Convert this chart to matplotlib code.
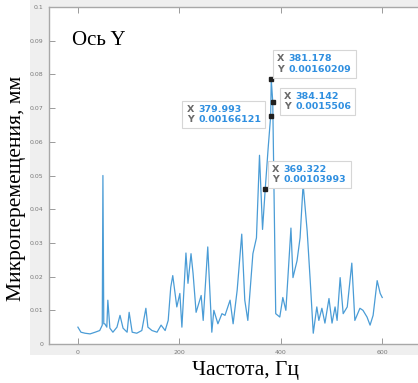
import matplotlib
matplotlib.use("Agg")
import matplotlib.pyplot as plt
from matplotlib.patches import Rectangle
from matplotlib.offsetbox import TextArea, HPacker, AnnotationBbox

# spectrum
freq = [0, 2, 6, 14, 24, 34, 43, 48, 49.3, 51, 53, 57, 59, 63, 69, 77, 83, 89, 97,
        101, 107, 116, 126, 134, 138, 146, 156, 164, 172, 178, 183, 187, 195, 201,
        205, 213, 217, 223, 227, 233, 243, 247, 256, 264, 268, 276, 284, 290, 300,
        306, 314, 323, 329, 335, 345, 352, 358, 364, 369.322, 375, 379.993, 381.178,
        384.142, 390, 398, 404, 410, 414, 420, 424, 432, 438, 444, 452, 458, 464,
        471, 475, 481, 487, 495, 501, 507, 511, 517, 523, 531, 540, 546, 556, 562,
        570, 576, 582, 590, 596, 600]
disp = [0.005, 0.0045, 0.0035, 0.0032, 0.003, 0.0035, 0.004, 0.0056, 0.050, 0.006,
        0.006, 0.005, 0.013, 0.0047, 0.0035, 0.005, 0.0085, 0.0047, 0.0035, 0.0094,
        0.0035, 0.0032, 0.004, 0.0106, 0.005, 0.004, 0.0035, 0.0056, 0.004, 0.007,
        0.0168, 0.0203, 0.011, 0.015, 0.005, 0.027, 0.018, 0.0268, 0.021, 0.0094,
        0.0144, 0.007, 0.0288, 0.0035, 0.01, 0.006, 0.009, 0.0085, 0.013, 0.006,
        0.016, 0.0326, 0.013, 0.007, 0.0268, 0.0315, 0.056, 0.034, 0.046, 0.058,
        0.0676, 0.0785, 0.0718, 0.009, 0.008, 0.0138, 0.01, 0.0197, 0.0344, 0.0197,
        0.0247, 0.0315, 0.0474, 0.0335, 0.0188, 0.0032, 0.011, 0.007, 0.0106, 0.0062,
        0.0135, 0.0062, 0.011, 0.007, 0.0197, 0.009, 0.011, 0.024, 0.007, 0.0106,
        0.010, 0.008, 0.0056, 0.0085, 0.0188, 0.015, 0.0138]

# data tips: x value, label text for y, offset of the box in pixels
tip_x = [381.178, 384.142, 379.993, 369.322]
tip_ylabel = ["0.00160209", "0.0015506", "0.00166121", "0.00103993"]
tip_off = [(6, 25), (11, 10), (-84, 11), (7, 24)]

fig = plt.figure(figsize=(4.18, 3.83), dpi=100)
fig.patch.set_facecolor("white")
fig.patches.append(Rectangle((30 / 418, 28 / 383), 1, 1, transform=fig.transFigure,
                             facecolor="#efefef", edgecolor="none", zorder=-5))

ax = fig.add_axes([49 / 418, 39 / 383, 369 / 418, 337 / 383])
ax.set_zorder(2)
ax.set_facecolor("white")
ax.plot(freq, disp, color="#4a9cd6", lw=0.9)

tip_font = dict(fontsize=6.8, fontweight="bold", family="DejaVu Sans", linespacing=1.15)
for x, lab, off in zip(tip_x, tip_ylabel, tip_off):
    y = disp[freq.index(x)]
    ax.plot(x, y, "s", color="#202020", ms=2.5, zorder=4)
    box = HPacker(children=[
        TextArea("X\nY", textprops=dict(color="#6a6a6a", **tip_font)),
        TextArea("%.3f\n%s" % (x, lab), textprops=dict(color="#2f8fe0", **tip_font)),
    ], pad=0, sep=3, align="top")
    ab = AnnotationBbox(box, (x, y), xybox=off, xycoords="data",
                        boxcoords="offset pixels", box_alignment=(0, 1), pad=0.3,
                        frameon=True, zorder=5,
                        bboxprops=dict(boxstyle="square", fc="white", ec="#d6d6d6", lw=0.8))
    ax.add_artist(ab)

ax.set_xlim(-57, 670.5)
ax.set_ylim(0, 0.1)
ax.set_xticks([0, 200, 400, 600])
ax.set_yticks([0, 0.01, 0.02, 0.03, 0.04, 0.05, 0.06, 0.07, 0.08, 0.09, 0.1])
ax.set_yticklabels(["0", "0.01", "0.02", "0.03", "0.04", "0.05", "0.06", "0.07",
                    "0.08", "0.09", "0.1"])
ax.tick_params(direction="in", length=4, width=0.6, color="#8a8a8a",
               labelsize=4.5, labelcolor="#7a7a7a", top=True, pad=4)
for s in ax.spines.values():
    s.set_color("#a8a8a8")
    s.set_linewidth(1.0)
ax.spines["right"].set_visible(False)

ax.text(0.063, 0.9, "Ось Y", transform=ax.transAxes, fontsize=15,
        family="Liberation Serif", va="center")
fig.text(246 / 418, 1 - 370 / 383, "Частота, Гц", ha="center", va="center",
         fontsize=15.5, family="Liberation Serif")
fig.text(17 / 418, 1 - 188 / 383, "Микроперемещения, мм", ha="center", va="center",
         rotation=90, fontsize=15.5, family="Liberation Serif")

fig.savefig("out.png", dpi=100)
